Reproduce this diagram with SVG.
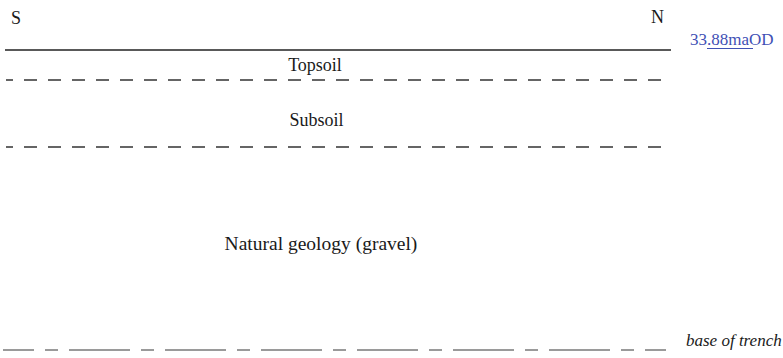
<svg xmlns="http://www.w3.org/2000/svg" width="783" height="358" viewBox="0 0 783 358">
<style>
  text { font-family: "Liberation Serif", "Times New Roman", serif; fill: #1a1a1a; }
  .lbl { font-size: 18px; text-anchor: middle; }
  .dir { font-size: 18px; }
  .lvl { font-size: 17px; fill: #3f51b5; }
  .note { font-size: 17px; font-style: italic; }
  .solid { stroke: #222; stroke-width: 1.3; fill: none; }
  .dash { stroke: #333; stroke-width: 1.3; fill: none; stroke-dasharray: 13 11; stroke-dashoffset: 6; }
  .base { stroke: #7a7a7a; stroke-width: 1.6; fill: none; stroke-dasharray: 61 11 13 11; stroke-dashoffset: 30; }
</style>
<rect width="783" height="358" fill="#ffffff"/>
<g id="lines">
  <line class="solid" x1="5" y1="50" x2="671" y2="50"/>
  <line class="dash" x1="6" y1="80" x2="661" y2="80"/>
  <line class="dash" x1="6" y1="147" x2="661" y2="147"/>
  <line class="base" x1="3" y1="350" x2="666" y2="350"/>
  <line x1="707" y1="48.5" x2="753" y2="48.5" stroke="#3f51b5" stroke-width="1.2"/>
</g>
<g id="labels">
  <text class="dir" x="11" y="24">S</text>
  <text class="dir" x="651" y="23">N</text>
  <text class="lvl" x="690" y="45">33.88maOD</text>
  <text class="lbl" x="315" y="70.5">Topsoil</text>
  <text class="lbl" x="316.5" y="126">Subsoil</text>
  <text class="lbl" x="321" y="250" style="font-size:19.5px">Natural geology (gravel)</text>
  <text class="note" x="686" y="346">base of trench</text>
</g>
</svg>
